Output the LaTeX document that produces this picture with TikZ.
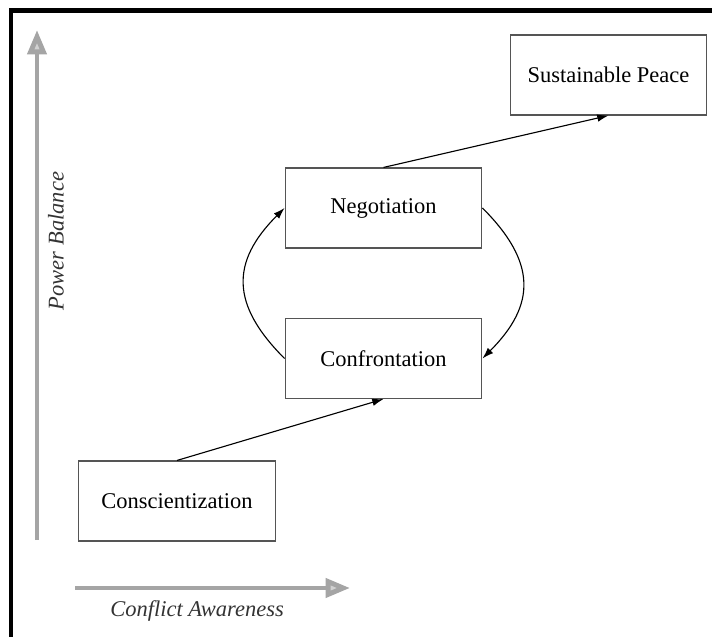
\documentclass[tikz,border=0pt]{standalone}
\usepackage{fontspec}
\setmainfont{Liberation Serif}
\usepackage{xcolor}
\definecolor{boxgray}{RGB}{85, 85, 85}
\definecolor{axisgray}{RGB}{165, 165, 165}
\usepackage{tikz}
\usetikzlibrary{
    arrows.meta,
    positioning
}
\tikzstyle{stage} = [
    rectangle, draw=boxgray,
    line width=0.6pt,
    minimum width=3.69cm,
    minimum height=1.5cm,
    text centered,
    align=center,
    fill=white
]
\tikzstyle{arrow} = [
    line width=0.6pt,
    -{Latex[length=6pt,width=4pt]}
]
\tikzstyle{axis} = [
    draw=axisgray,
    line width=2.6pt,
    -{Triangle[length=13pt,width=10pt,fill=axisgray!50]}
]
\tikzstyle{axislabel} = [
    font=\fontsize{12pt}{14pt}\selectfont\itshape,
    text=black!80
]

\begin{document}
\begin{tikzpicture}[
	x=0.01875cm, y=-0.01875cm,
	every node/.append style={font=\fontsize{12pt}{14pt}\selectfont}
]
\useasboundingbox (0,0) rectangle (712,637);

% Rahmen
\draw [line width=2.4pt] (11,637) -- (11,10.5) -- (712,10.5);

\node (consc) [stage] at (177,501) {Conscientization};
\node (confr) [stage] at (383.5,358.5) {Confrontation};
\node (nego) [stage] at (383.5,208) {Negotiation};
\node (peace) [stage] at (608.5,75) {Sustainable Peace};

\draw [arrow] (consc.north) -- (confr.south);
\draw [arrow] (nego.north) -- (peace.south);
\draw [arrow] (confr.west) to[out=135, in=225, looseness=1.3] (nego.west);
\draw [arrow] (nego.east) to[out=-45, in=45, looseness=1.3] (confr.east);

% Achsen
\coordinate (vbot) at (37,540);
\coordinate (vtop) at (37,30);
\coordinate (hleft) at (75,588);
\coordinate (hright) at (350,588);
\draw [axis] (vbot) -- (vtop);
\draw [axis] (hleft) -- (hright);

\node (power) [axislabel, rotate=90] at (56,241) {Power Balance};
\node (aware) [axislabel] at (197,611) {Conflict Awareness};

\end{tikzpicture}
\end{document}
